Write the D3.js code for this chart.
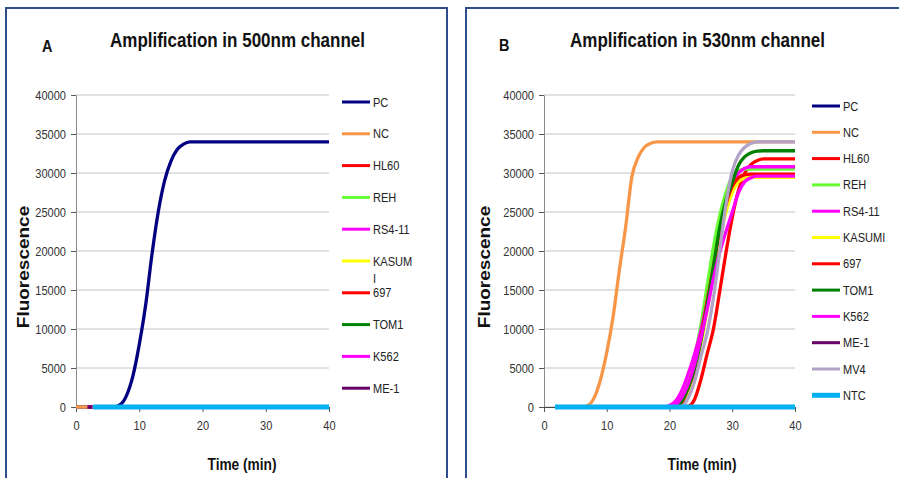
<!DOCTYPE html>
<html><head><meta charset="utf-8">
<script src="https://cdn.jsdelivr.net/npm/d3@7"></script>
<style>
body{margin:0;background:#fff;}
svg{display:block;font-family:"Liberation Sans",Arial,Helvetica,sans-serif;}
</style>
</head><body>
<svg id="c" width="899" height="478"></svg>
<script>
// ---------- data ----------
const seriesNames = ["PC","NC","HL60","REH","RS4-11","KASUMI","697","TOM1","K562","ME-1","MV4","NTC"];
const legendNamesA = ["PC","NC","HL60","REH","RS4-11","KASUM\nI","697","TOM1","K562","ME-1"];
const seriesColors = ["#000080","#F79646","#FF0000","#66FF33","#FF00FF","#FFFF00","#FF0000","#008000","#FF00FF","#660066","#B3A2C7","#00B0F0"];
const xTicks = [0,10,20,30,40];
const yTicks = [0,5000,10000,15000,20000,25000,30000,35000,40000];
const titleA = "Amplification in 500nm channel";
const titleB = "Amplification in 530nm channel";

// first reading time of each series (min), flat at 0 until the curve data
const startA = [0,0,2,2,2,2,2,2,2,1.8,2.6,2.7];
const startB = [2,2,2,2,2,2,2,2,2,2,2,1.75];

// early amplifiers (PC in 500nm, NC in 530nm)
const earlyTime = [6,7,8,9,10,11,12,13,14,15,16,17,18,19,40];
const pcA = [0,300,1500,4000,8000,13000,19500,25000,29000,31500,33000,33700,34000,34000,34000];
const ncB = [0,200,1200,3500,7000,11500,17500,23000,29500,32000,33300,33800,34000,34000,34000];

// late amplifiers in 530nm
const lateTime = [19,20,21,22,23,24,25,26,27,28,29,30,31,32,33,34,35,36,40];
const hl60B   = [0,0,0,0,100,1000,3500,6800,10000,14800,19800,24300,27800,30000,31100,31600,31800,31800,31800];
const rehB    = [0,0,300,1500,3500,6500,10500,15500,20500,24500,27500,29500,30300,30500,30500,30500,30500,30500,30500];
const rs411B  = [0,200,800,2200,4300,6800,9800,13500,17500,21500,25500,28500,30000,30600,30800,30800,30800,30800,30800];
const kasumiB = [0,0,0,500,2000,4500,8000,12500,17000,21500,25000,27500,28900,29350,29440,29440,29440,29440,29440];
const b697B   = [0,0,0,600,2500,4700,8800,13500,18000,22500,26000,28300,29400,29800,29860,29860,29860,29860,29860];
const tom1B   = [0,0,100,800,2500,5000,8500,13000,18000,23000,26500,28800,31000,32100,32600,32800,32850,32850,32850];
const k562B   = [0,0,300,1300,3000,5500,8800,12500,16500,19800,22500,25000,27500,28900,29400,29600,29600,29600,29600];
const mv4B    = [0,0,0,100,1200,3300,6500,9500,14000,20000,26000,30200,32300,33300,33800,34000,34000,34000,34000];

// ---------- build series ----------
function flat(start){ return [[start,0],[40,0]]; }
function curve(start, times, vals){ return [[start,0]].concat(times.map((t,j)=>[t,vals[j]])); }

const dataA = seriesNames.map((n,i)=> i===0 ? curve(startA[i], earlyTime, pcA) : flat(startA[i]));
const lateB = {2:hl60B,3:rehB,4:rs411B,5:kasumiB,6:b697B,7:tom1B,8:k562B,10:mv4B};
const dataB = seriesNames.map((n,i)=>{
  if(i===1) return curve(startB[i], earlyTime, ncB);
  if(lateB[i]) return curve(startB[i], lateTime, lateB[i]);
  return flat(startB[i]);
});

// ---------- drawing ----------
const svg = d3.select("#c");
svg.append("rect").attr("width",899).attr("height",478).attr("fill","#fff");
const SX = 0.85; // condensed text look

function txt(g, x, y, s, size, opts={}){
  const sx = opts.sx || SX;
  return g.append("text")
    .attr("transform", `translate(${x},${y}) scale(${sx},1)` + (opts.rotate ? " rotate(-90)" : ""))
    .attr("text-anchor", opts.anchor || "start")
    .attr("font-size", size)
    .attr("font-weight", opts.bold ? "bold" : "normal")
    .attr("fill", opts.fill || "#111")
    .text(s);
}

function panel(cfg){
  const g = svg.append("g");
  g.append("rect").attr("x",cfg.bx).attr("y",8).attr("width",cfg.bw).attr("height",500)
    .attr("fill","none").attr("stroke","#2F4D8A").attr("stroke-width",2);

  const x = d3.scaleLinear().domain([0,40]).range([cfg.left,cfg.right]);
  const y = d3.scaleLinear().domain([0,40000]).range([407,95]);

  // gridlines
  g.append("g").selectAll("line").data(yTicks).join("line")
    .attr("x1",cfg.left).attr("x2",cfg.right)
    .attr("y1",d=>y(d)).attr("y2",d=>y(d))
    .attr("stroke","#C4C4C4").attr("stroke-width",1);

  // axes
  const ya = g.append("g").attr("transform",`translate(${cfg.left},0)`)
    .call(d3.axisLeft(y).tickValues(yTicks).tickSize(5).tickSizeOuter(0).tickFormat(d3.format("d")));
  ya.select(".domain").attr("stroke","#8A8A8A");
  ya.selectAll(".tick line").attr("stroke","#555");
  ya.selectAll(".tick text").attr("x",null).attr("dy","0.35em")
    .attr("transform",`translate(-10,0) scale(${SX},1)`)
    .attr("font-size",13).attr("font-family",null).attr("fill","#333");

  const xa = g.append("g").attr("transform","translate(0,407)")
    .call(d3.axisBottom(x).tickValues(xTicks).tickSize(5).tickSizeOuter(0));
  xa.select(".domain").attr("stroke","#444");
  xa.selectAll(".tick line").attr("stroke","#555");
  xa.selectAll(".tick text").attr("y",null).attr("dy",null)
    .attr("transform",`translate(0,23) scale(${SX},1)`)
    .attr("font-size",13).attr("font-family",null).attr("fill","#333");

  // lines
  const line = d3.line().x(d=>x(d[0])).y(d=>y(d[1])).curve(d3.curveMonotoneX);
  g.append("g").selectAll("path").data(cfg.data).join("path")
    .attr("d",line).attr("fill","none")
    .attr("stroke",(d,i)=>seriesColors[i])
    .attr("stroke-width",(d,i)=> i===11 ? 5 : 3.3)
    .attr("stroke-linejoin","round");

  // titles
  txt(g, cfg.titleX, cfg.titleY, cfg.title, 21, {bold:true, anchor:"middle", sx:0.81});
  txt(g, cfg.letterX, cfg.letterY, cfg.letter, 17, {bold:true});
  txt(g, cfg.timeX, 470, "Time (min)", 16.5, {bold:true, anchor:"middle", sx:0.83});
  txt(g, cfg.fluoX, 267, "Fluorescence", 19, {bold:true, anchor:"middle", rotate:true});

  // legend
  const lg = g.append("g");
  cfg.legend.forEach((name,i)=>{
    const yy = cfg.legY + i*cfg.legStep;
    lg.append("line").attr("x1",cfg.legX).attr("x2",cfg.legX+28).attr("y1",yy).attr("y2",yy)
      .attr("stroke",seriesColors[i]).attr("stroke-width", i===11 ? 5 : 3);
    name.split("\n").forEach((part,k)=>{
      txt(lg, cfg.legX+31, yy + k*17, part, 13, {fill:"#222"}).attr("dy","0.35em");
    });
  });
}

panel({bx:6,bw:441,left:76,right:329,data:dataA,title:titleA,titleX:237.5,titleY:47,
  letter:"A",letterX:42,letterY:52,timeX:242,fluoX:29,
  legend:legendNamesA,legX:342,legY:102,legStep:31.8});
panel({bx:466,bw:460,left:544,right:795,data:dataB,title:titleB,titleX:697.5,titleY:47,
  letter:"B",letterX:499,letterY:51,timeX:702,fluoX:490,
  legend:seriesNames,legX:812,legY:106,legStep:26.3});
</script>
</body></html>
